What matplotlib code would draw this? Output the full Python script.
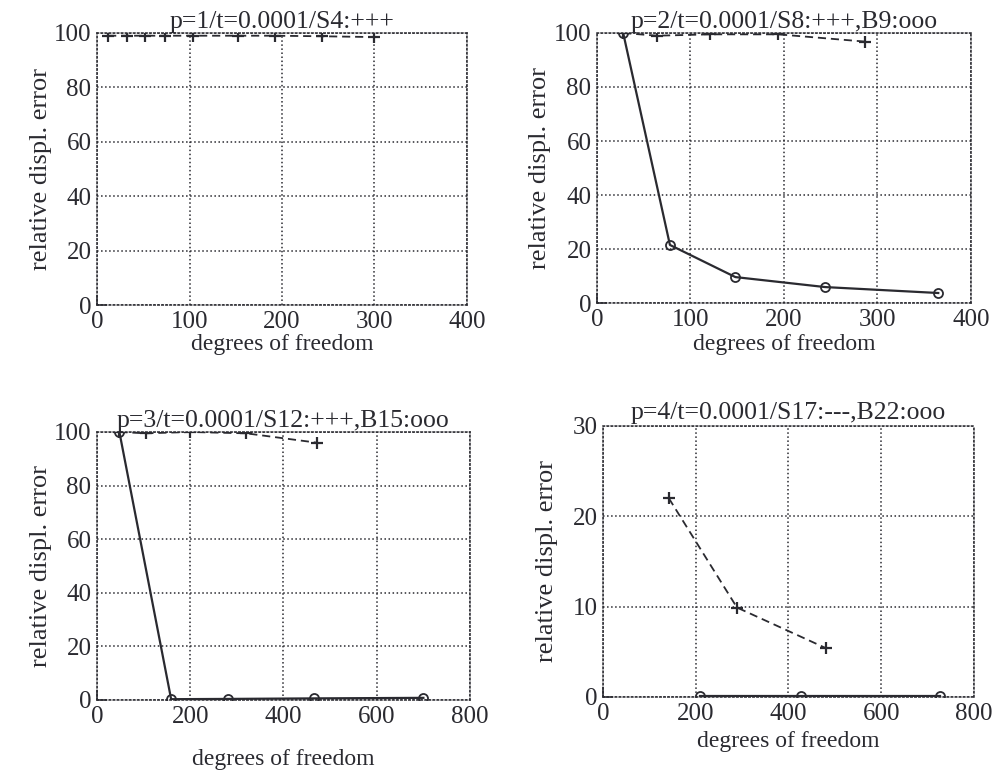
import numpy as np
import matplotlib
matplotlib.use("Agg")
import matplotlib.pyplot as plt

## Fonts: Times-like serif look
plt.rcParams['font.family'] = ['Liberation Serif', 'DejaVu Serif']

## p=1 : S4 (+++)
dof_S4 = [12, 32, 52, 73, 104, 152, 192, 243, 300]
err_S4 = [99, 99, 99, 99, 99, 99, 99, 98.8, 98.5]

## p=2 : S8 (+++), B9 (ooo)
dof_S8 = [28, 64, 121, 194, 287]
err_S8 = [100, 99, 99.5, 99.5, 96.8]
dof_B9 = [28, 78, 148, 244, 365]
err_B9 = [100, 21.5, 9.6, 5.9, 3.7]

## p=3 : S12 (+++), B15 (ooo)
dof_S12 = [48, 105, 200, 320, 472]
err_S12 = [100, 99.5, 100, 99.5, 96.0]
dof_B15 = [48, 159, 281, 466, 700]
err_B15 = [100, 0.3, 0.4, 0.6, 0.8]

## p=4 : S17 (---), B22 (ooo)
dof_S17 = [142, 289, 481]
err_S17 = [22.0, 9.9, 5.4]
dof_B22 = [209, 427, 726]
err_B22 = [0.1, 0.1, 0.1]

titles = ["p=1/t=0.0001/S4:+++", "p=2/t=0.0001/S8:+++,B9:ooo",
          "p=3/t=0.0001/S12:+++,B15:ooo", "p=4/t=0.0001/S17:---,B22:ooo"]
xlabel = "degrees of freedom"
ylabel = "relative displ. error"

ink = '#2a2a30'
dash = (0, (4.5, 2.7))

fig = plt.figure(figsize=(9.97, 7.71), dpi=100)
ax1 = fig.add_axes([0.0973, 0.6044, 0.3711, 0.3528])
ax2 = fig.add_axes([0.5988, 0.6070, 0.3751, 0.3502])
ax3 = fig.add_axes([0.0973, 0.0921, 0.3741, 0.3476])
ax4 = fig.add_axes([0.6048, 0.0960, 0.3721, 0.3515])

## curves
plus = dict(ls=dash, marker='+', color=ink, lw=1.3, ms=9, mew=1.6)
circ = dict(ls='-', marker='o', color=ink, lw=1.6, ms=6.5, mfc='none', mew=1.3)

ax1.plot(dof_S4, err_S4, **plus)

ax2.plot(dof_S8, err_S8, **plus)
ax2.plot(dof_B9, err_B9, **circ)

ax3.plot(dof_S12, err_S12, **plus)
ax3.plot(dof_B15, err_B15, **circ)

ax4.plot(dof_S17, err_S17, **plus)
ax4.plot(dof_B22, err_B22, **circ)

## axes setup
setup = [(ax1, 400, 100, 100, 20), (ax2, 400, 100, 100, 20),
         (ax3, 800, 200, 100, 20), (ax4, 800, 200, 30, 10)]
pads = [1, 1, 1, 5]
xlab_y = [-0.108, -0.116, -0.182, -0.126]
for (ax, xmax, xstep, ymax, ystep), title, pad, xl in zip(setup, titles, pads, xlab_y):
    ax.set_xlim(0, xmax)
    ax.set_ylim(0, ymax)
    ax.set_xticks(np.arange(0, xmax + 1, xstep))
    ax.set_yticks(np.arange(0, ymax + 1, ystep))
    ax.grid(True, linestyle=':', color=ink, lw=1.1)
    for s in ax.spines.values():
        s.set_linestyle(':')
        s.set_linewidth(1.1)
        s.set_color(ink)
    ax.tick_params(direction='in', length=7, width=1.1, color=ink,
                   labelsize=18, labelcolor=ink, pad=4)
    ## only the tick at the origin is drawn (the little "L")
    for i, t in enumerate(ax.xaxis.get_major_ticks()):
        t.tick2line.set_visible(False)
        if i > 0:
            t.tick1line.set_visible(False)
    for i, t in enumerate(ax.yaxis.get_major_ticks()):
        t.tick2line.set_visible(False)
        if i > 0:
            t.tick1line.set_visible(False)
    ax.set_title(title, fontsize=18.5, color=ink, pad=pad)
    ax.set_xlabel(xlabel, fontsize=17, color=ink)
    ax.set_ylabel(ylabel, fontsize=19, color=ink)
    ax.xaxis.set_label_coords(0.5, xl)
    ax.yaxis.set_label_coords(-0.122, 0.5)

plt.savefig("out.png", dpi=100)
